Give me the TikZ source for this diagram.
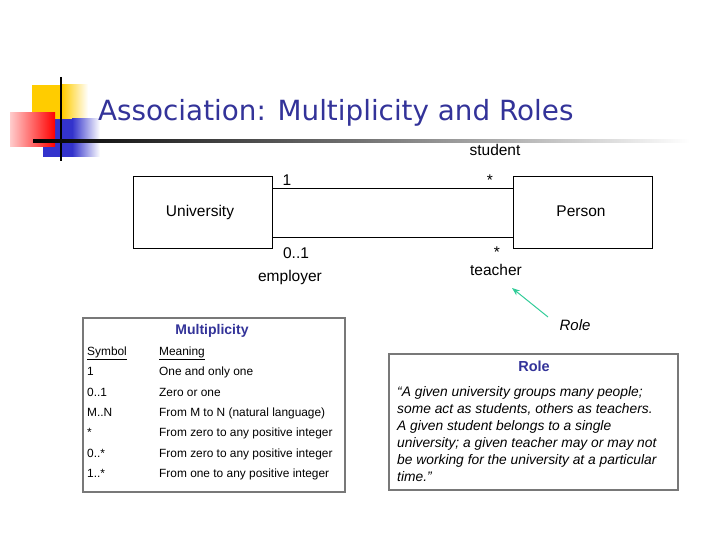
\documentclass[tikz,border=0pt]{standalone}
\usepackage{fontspec}
\setmainfont{Liberation Sans}
\newfontfamily\titlefont{DejaVu Sans}
\usetikzlibrary{arrows.meta,calc}
\definecolor{ttlblue}{RGB}{51,51,153}
\definecolor{rolegreen}{RGB}{51,204,153}
\definecolor{sqyellow}{RGB}{255,204,0}
\definecolor{sqred}{RGB}{255,0,0}
\definecolor{sqblue}{RGB}{51,51,204}
\definecolor{boxgray}{RGB}{120,120,120}
\begin{document}
\begin{tikzpicture}[x=1pt,y=-1pt,
  umlbox/.style={draw=black, line width=1pt, minimum width=139pt, minimum height=71pt, inner sep=0pt},
  umllbl/.style={font=\fontsize{15.5}{18}\selectfont, inner sep=0pt, anchor=base},
  tbltxt/.style={font=\fontsize{11.9}{13}\selectfont, anchor=base west, inner sep=0pt},
  roletxt/.style={font=\fontsize{13.8}{16}\selectfont\itshape, anchor=base west, inner sep=0pt},
  hdr/.style={font=\fontsize{14}{16}\selectfont\bfseries, text=ttlblue, inner sep=0pt, anchor=base},
  panel/.style={draw=boxgray, line width=1.2pt, fill=white, inner sep=0pt},
  assoc/.style={draw=black, line width=1pt}
]
\useasboundingbox (0,0) rectangle (720,540);
% decorative squares
\fill[sqyellow] (32,85) rectangle (62,120);
\shade[left color=sqyellow, right color=white] (62,85) rectangle (88,120);
\fill[sqblue] (43,119) rectangle (72,157);
\shade[left color=sqblue, right color=white] (72,119) rectangle (100,157);
\shade[left color=sqred!20!white, right color=sqred] (10,113) rectangle (55,147);
\draw[black, line width=1.5pt] (61,77) -- (61,161);
\shade[left color=black, right color=white, middle color=black!55] (33,139.6) rectangle (690,142.6);
% title
\node[anchor=base west, font=\titlefont\fontsize{27.8}{32}\selectfont, text=ttlblue, inner sep=0pt] (title) at (98,121) {Association: Multiplicity and Roles};
% UML classes
\node[umlbox] (uni) at (202.5,212.5) {};
\node[umlbox] (per) at (582.5,212.5) {};
\node[umllbl] (unit) at (200,216.7) {University};
\node[umllbl] (pert) at (581,216.7) {Person};
\draw[assoc] ([yshift=-12pt]uni.north east) -- ([yshift=-12pt]per.north west);
\draw[assoc] ([yshift=11pt]uni.south east) -- ([yshift=11pt]per.south west);
\node[umllbl] (m1) at (287,186) {1};
\node[umllbl] (m2) at (490,186) {*};
\node[umllbl] (rstud) at (495,156) {student};
\node[umllbl] (m3) at (296,258.3) {0..1};
\node[umllbl] (remp) at (290,281.7) {employer};
\node[umllbl] (m4) at (497,258) {*};
\node[umllbl] (rteach) at (496,275.7) {teacher};
% role arrow
\node[font=\fontsize{15}{18}\selectfont\itshape, inner sep=0pt, anchor=base] (rolelbl) at (575,330) {Role};
\coordinate (arrS) at (548,317);
\coordinate (arrE) at (512,288);
\draw[rolegreen, line width=1pt, -{Stealth[length=8pt,width=6pt]}] (arrS) -- (arrE);
% multiplicity panel
\node[panel, minimum width=262pt, minimum height=174pt] (multbox) at (214,405) {};
\node[hdr] (multh) at (212,334.3) {Multiplicity};
\node[tbltxt] (s0) at (87,355) {\underline{Symbol}};
\node[tbltxt] (d0) at (159,355) {\underline{Meaning}};
\node[tbltxt] (s1) at (87,375.7) {1};
\node[tbltxt] (d1) at (159,375.7) {One and only one};
\node[tbltxt] (s2) at (87,396.1) {0..1};
\node[tbltxt] (d2) at (159,396.1) {Zero or one};
\node[tbltxt] (s3) at (87,416.5) {M..N};
\node[tbltxt] (d3) at (159,416.5) {From M to N (natural language)};
\node[tbltxt] (s4) at (87,436.9) {*};
\node[tbltxt] (d4) at (159,436.9) {From zero to any positive integer};
\node[tbltxt] (s5) at (87,457.3) {0..*};
\node[tbltxt] (d5) at (159,457.3) {From zero to any positive integer};
\node[tbltxt] (s6) at (87,477.7) {1..*};
\node[tbltxt] (d6) at (159,477.7) {From one to any positive integer};
% role panel
\node[panel, minimum width=289pt, minimum height=136pt] (rolebox) at (533.5,422) {};
\node[hdr, font=\fontsize{14.5}{16}\selectfont\bfseries] (roleh) at (534,371) {Role};
\node[roletxt] (r1) at (397,396.7) {“A given university groups many people;};
\node[roletxt] (r2) at (397,413.6) {some act as students, others as teachers.};
\node[roletxt] (r3) at (397,430.4) {A given student belongs to a single};
\node[roletxt] (r4) at (397,447.3) {university; a given teacher may or may not};
\node[roletxt] (r5) at (397,464.1) {be working for the university at a particular};
\node[roletxt] (r6) at (397,481) {time.”};
\end{tikzpicture}
\end{document}
